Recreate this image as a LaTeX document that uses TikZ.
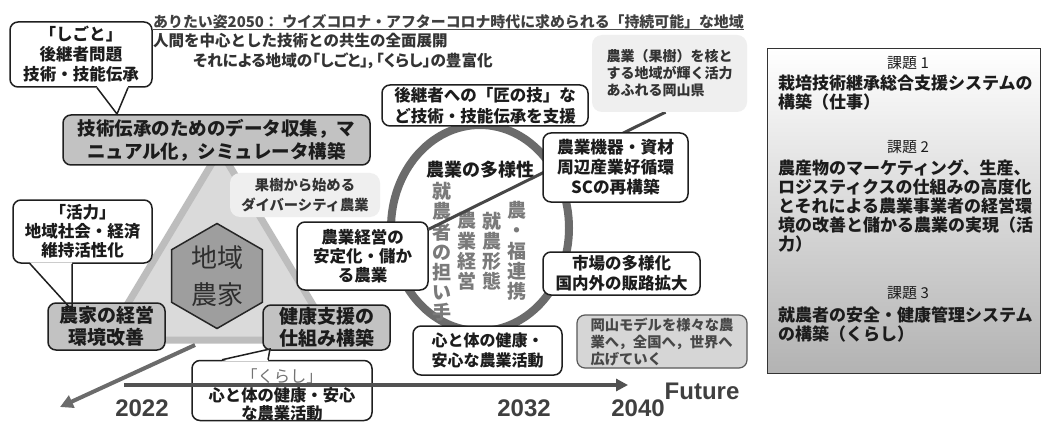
\documentclass[tikz,border=0pt]{standalone}
\usepackage{fontspec}
\setmainfont{Noto Sans CJK JP}
\newfontfamily\jpp[RawFeature=+palt]{Noto Sans CJK JP}
\newfontfamily\lsans{Liberation Sans}
\usetikzlibrary{shapes.geometric,arrows.meta}
\newcommand\fsz[2]{\fontsize{#1pt}{#2pt}\selectfont}
\pgfdeclarelayer{back}
\pgfdeclarelayer{mid}
\pgfsetlayers{back,mid,main}
\definecolor{ink}{HTML}{1C1C1C}
\definecolor{boxgray}{HTML}{C2C2C2}
\definecolor{trifill}{HTML}{DADADA}
\definecolor{triedge}{HTML}{BDBDBD}
\definecolor{ringc}{HTML}{6B6B6B}
\definecolor{vtc}{HTML}{7A7A7A}
\definecolor{lightbg}{HTML}{EFEFEF}
\definecolor{okabg}{HTML}{D6D6D6}
\begin{document}
\begin{tikzpicture}[x=1pt,y=-1pt,
  wbox/.style={draw=black!88, line width=1.5pt, rounded corners=8pt, fill=white, align=center, inner sep=1pt, text=ink},
  gbox/.style={wbox, fill=boxgray},
  lbox/.style={fill=lightbg, rounded corners=10pt, align=left, inner sep=1pt, text=black!80},
  vt/.style={font=\fsz{19}{20.2}\bfseries, text=vtc, align=center, inner sep=0pt},
  yr/.style={font=\lsans\bfseries\fsz{24}{24}, text=black!75, inner sep=0pt},
  tail/.style={draw=black!88, line width=1.5pt},
  ptxt/.style={anchor=north west, align=left, font=\fsz{17}{19}\bfseries, inner sep=0pt, text=ink},
  khead/.style={font=\fsz{15}{18}, inner sep=0pt, text=ink}
]
\useasboundingbox (0,0) rectangle (1043,422);
\begin{pgfonlayer}{back}
  \fill[white] (0,0) rectangle (1043,422);
  % triangle
  \draw[line width=7pt, draw=triedge, fill=trifill, line join=round] (220,150) -- (334,340) -- (106,340) -- cycle;
  % ring
  \draw[line width=8pt, ringc] (480,228) ellipse [x radius=89, y radius=103];
  % inner texts
  \node[font=\fsz{18}{20}\bfseries, text=ink, inner sep=0pt] (tayo) at (480,170) {農業の多様性};
  \node[vt] (v1) at (442,252) {就\\農\\者\\の\\担\\い\\手};
  \node[vt] (v2) at (467,251) {農\\業\\経\\営};
  \node[vt] (v3) at (492,251) {就\\農\\形\\態};
  \node[vt] (v4) at (517,251) {農\\・\\福\\連\\携};
\end{pgfonlayer}

% right panel
\node[draw=black!80, line width=1.3pt, minimum width=273pt, minimum height=325pt, inner sep=0pt,
      top color=white, bottom color=black!30, anchor=north west] (panel) at (767,48) {};
\node[khead] (k1) at (908,63) {課題 1};
\node[ptxt] (p1) at (778,74.5) {栽培技術継承総合支援システムの\\構築（仕事）};
\node[khead] (k2) at (908,147) {課題 2};
\node[ptxt] (p2) at (778,159.5) {農産物のマーケティング、生産、\\ロジスティクスの仕組みの高度化\\とそれによる農業事業者の経営環\\境の改善と儲かる農業の実現（活\\力）};
\node[khead] (k3) at (908,293) {課題 3};
\node[ptxt] (p3) at (778,306.5) {就農者の安全・健康管理システム\\の構築（くらし）};

% title lines
\node[anchor=west, inner sep=0pt, font=\fsz{14.9}{18}\bfseries, text=black!75] (t1) at (153,22) {ありたい姿2050： ウイズコロナ・アフターコロナ時代に求められる「持続可能」な地域};
\draw[black!70, line width=1pt] ([yshift=-0.5pt]t1.south west) -- ([yshift=-0.5pt]t1.south east);
\node[anchor=west, inner sep=0pt, font=\fsz{15.5}{18}\bfseries, text=black!80] (t2) at (153,41) {人間を中心とした技術との共生の全面展開};
\node[anchor=west, inner sep=0pt, font=\jpp\fsz{15.6}{18}\bfseries, text=black!80] (t3) at (193,61) {それによる地域の「しごと」，「くらし」の豊富化};

% down-left arrow
\coordinate (dl0) at (195,345);
\coordinate (dl1) at (60,407);
\draw[line width=4pt, black!58, -{Triangle[length=13pt,width=13pt]}] (dl0) -- (dl1);

% boxes
\node[wbox, minimum width=142pt, minimum height=65pt, font=\fsz{16.5}{20}\bfseries] (sg) at (81,54.5) {「しごと」\\後継者問題\\技術・技能伝承};
\node[gbox, minimum width=307pt, minimum height=50pt, font=\fsz{18.5}{23}\bfseries] (dbox) at (216.5,140) {技術伝承のためのデータ収集，マ\\ニュアル化，シミュレータ構築};
\coordinate (sgtip) at (117,114);
\fill[white] ([xshift=16pt,yshift=1.5pt]sg.south) -- (sgtip) -- ([xshift=47pt,yshift=1.5pt]sg.south) -- cycle;
\draw[tail] ([xshift=16pt]sg.south) -- (sgtip) -- ([xshift=47pt]sg.south);

\node[lbox, align=center, minimum width=150pt, minimum height=44pt, font=\fsz{14.3}{20}\bfseries] (kaju2) at (305,195) {果樹から始める\\ダイバーシティ農業};

\node[wbox, minimum width=139pt, minimum height=63pt, font=\fsz{16.5}{19}\bfseries] (kt) at (82.5,231.5) {「活力」\\地域社会・経済\\維持活性化};
\coordinate (kttip) at (72,310);
\fill[white] ([xshift=-52.5pt,yshift=1.5pt]kt.south) -- (kttip) -- ([xshift=-10.5pt,yshift=1.5pt]kt.south) -- cycle;
\node[gbox, minimum width=117pt, minimum height=47pt, font=\fsz{19}{22}\bfseries] (noka) at (106.5,326.5) {農家の経営\\環境改善};
\draw[tail] ([xshift=-52.5pt]kt.south) -- (kttip) -- ([xshift=-10.5pt]kt.south);

\node[regular polygon, regular polygon sides=6, shape border rotate=30, minimum size=105pt, inner sep=0pt,
      draw=black!85, line width=1.5pt, fill=black!38, text=black!82, align=center, font=\fsz{26}{37}] (hex) at (217,276) {地域\\農家};

\node[gbox, minimum width=127pt, minimum height=45pt, font=\fsz{19}{22}\bfseries] (kenko) at (326.5,327.5) {健康支援の\\仕組み構築};

\node[wbox, minimum width=180pt, minimum height=60pt] (kr) at (282,390.5) {};
\node[align=center, inner sep=0pt, text=ink, font=\fsz{16.3}{18.6}\bfseries] (krt) at (282,395) {{\mdseries\color{black!55}「くらし」}\\心と体の健康・安心\\な農業活動};
\coordinate (krtip) at (270,349);
\fill[white] ([xshift=-60pt,yshift=-1.5pt]kr.north) -- (krtip) -- ([xshift=-14pt,yshift=-1.5pt]kr.north) -- cycle;
\draw[tail] ([xshift=-60pt]kr.north) -- (krtip) -- ([xshift=-14pt]kr.north);

% circle-side boxes
\node[wbox, minimum width=206pt, minimum height=41pt, font=\fsz{16.5}{21}\bfseries] (inh) at (485,105.5) {後継者への「匠の技」な\\ど技術・技能伝承を支援};
\node[lbox, minimum width=155pt, minimum height=77pt, font=\fsz{14}{17}\bfseries] (kaju) at (669.5,73.5) {農業（果樹）を核と\\する地域が輝く活力\\あふれる岡山県};
\node[wbox, minimum width=145pt, minimum height=69pt, font=\fsz{16.7}{20}\bfseries] (kiki) at (615.5,167.5) {農業機器・資材\\周辺産業好循環\\SCの再構築};
\node[wbox, minimum width=157pt, minimum height=43pt, font=\fsz{16.5}{20}\bfseries] (shijo) at (621.5,273.5) {市場の多様化\\国内外の販路拡大};
\node[wbox, minimum width=131pt, minimum height=68pt, font=\fsz{16.5}{19}\bfseries] (anei) at (362.5,256) {農業経営の\\安定化・儲か\\る農業};
\node[wbox, minimum width=149pt, minimum height=49pt, font=\fsz{16}{20}\bfseries] (kokoro) at (487.5,350.5) {心と体の健康・\\安心な農業活動};
\node[wbox, fill=okabg, draw=black!65, line width=1.2pt, align=left, text=black!72, minimum width=170pt, minimum height=53pt, font=\fsz{14.3}{17}\bfseries] (oka) at (662,341.5) {岡山モデルを様々な農\\業へ，全国へ，世界へ\\広げていく};

% diagonal connector behind boxes
\begin{pgfonlayer}{mid}
  \draw[line width=3pt, black!72] ([yshift=-8pt]anei.north east) -- ([xshift=-4pt]kaju.south);
\end{pgfonlayer}

% timeline
\coordinate (tl0) at (124,385);
\coordinate (tl1) at (628,385);
\draw[line width=4pt, black!68, -{Triangle[length=12pt,width=12pt]}] (tl0) -- (tl1);
\node[yr] (y1) at (142,408) {2022};
\node[yr] (y2) at (524,408.5) {2032};
\node[yr] (y3) at (638,408.5) {2040};
\node[yr] (fut) at (702,391) {Future};
\end{tikzpicture}
\end{document}
